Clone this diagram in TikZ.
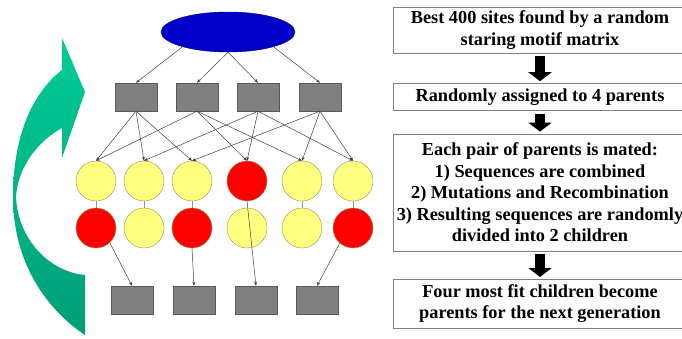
\documentclass[tikz,border=0pt]{standalone}
\usepackage{fontspec}
\setmainfont{Liberation Serif}
\usetikzlibrary{positioning,shapes.geometric,arrows.meta}
\definecolor{poolblue}{RGB}{0,0,200}
\definecolor{boxgray}{RGB}{128,128,128}
\definecolor{seqyellow}{RGB}{255,255,128}
\definecolor{seqred}{RGB}{255,0,0}
\definecolor{seqedge}{RGB}{150,150,90}
\definecolor{greenlight}{RGB}{0,204,150}
\definecolor{greendark}{RGB}{0,158,118}

\begin{document}
\begin{tikzpicture}[
    x=1pt,
    y=-1pt,
    pool/.style={
        ellipse,
        draw=poolblue!60!black,
        fill=poolblue,
        minimum width=134pt,
        minimum height=40pt
    },
    parent/.style={
        rectangle,
        draw=boxgray!70!black,
        fill=boxgray,
        minimum width=42pt,
        minimum height=28pt
    },
    yseq/.style={
        circle,
        draw=seqedge,
        fill=seqyellow,
        minimum size=40pt,
        inner sep=0pt
    },
    rseq/.style={
        circle,
        draw=seqedge,
        fill=seqred,
        minimum size=40pt,
        inner sep=0pt
    },
    stage/.style={
        rectangle,
        draw=gray,
        fill=white,
        minimum width=294pt,
        inner sep=0pt,
        align=center,
        font=\bfseries\fontsize{18.3}{21.5}\selectfont
    },
    arrow/.style={-{Stealth[length=4pt,width=3pt]}, draw=black!75, line width=0.5pt},
    bigarrow/.style={-{Triangle[length=9pt,width=23pt]}, line width=10pt,
        shorten <=3pt, shorten >=2pt}
]
    \useasboundingbox (0,0) rectangle (682,339);

    % Cycle arrow
    \shade[top color=greenlight, bottom color=greendark]
        (85,335) .. controls (40,305) and (13,255) .. (13,197)
        .. controls (13,140) and (30,95) .. (62,70)
        -- (62,38) -- (85,92) -- (62,158) -- (62,128)
        .. controls (40,140) and (18,165) .. (16,197)
        .. controls (18,240) and (50,272) .. (85,275) -- cycle;

    % Site pool
    \node[pool] (pool) at (228,32) {};

    % Parents
    \node[parent] (p1) at (136,97) {};
    \node[parent] (p2) at (197,97) {};
    \node[parent] (p3) at (258,97) {};
    \node[parent] (p4) at (320,97) {};

    % Children - upper sequences
    \node[yseq] (ca1) at (96,181) {};
    \node[yseq] (ca2) at (144,181) {};
    \node[yseq] (ca3) at (192,181) {};
    \node[rseq] (ca4) at (247,181) {};
    \node[yseq] (ca5) at (302,181) {};
    \node[yseq] (ca6) at (353,181) {};

    % Children - lower sequences
    \node[rseq] (cb1) at (96,228) {};
    \node[yseq] (cb2) at (144,228) {};
    \node[rseq] (cb3) at (192,228) {};
    \node[yseq] (cb4) at (247,228) {};
    \node[yseq] (cb5) at (302,228) {};
    \node[rseq] (cb6) at (353,228) {};

    % Next generation
    \node[parent] (n1) at (132,300) {};
    \node[parent] (n2) at (194,300) {};
    \node[parent] (n3) at (256,300) {};
    \node[parent] (n4) at (317,300) {};

    % Arrows - pool to parents
    \draw[arrow] (pool.198) -- (p1.north);
    \draw[arrow] (pool.south) -- (p2.north);
    \draw[arrow] (pool.south) -- (p3.north);
    \draw[arrow] (pool.342) -- (p4.north);

    % Arrows - parents to children
    \draw[arrow] (p1.south) -- (ca1.north);
    \draw[arrow] (p1.south) -- (ca2.north);
    \draw[arrow] (p1.south) -- (ca3.north);
    \draw[arrow] (p2.south) -- (ca1.north);
    \draw[arrow] (p2.south) -- (ca4.north);
    \draw[arrow] (p2.south) -- (ca5.north);
    \draw[arrow] (p3.south) -- (ca2.north);
    \draw[arrow] (p3.south) -- (ca4.north);
    \draw[arrow] (p3.south) -- (ca6.north);
    \draw[arrow] (p4.south) -- (ca3.north);
    \draw[arrow] (p4.south) -- (ca5.north);
    \draw[arrow] (p4.south) -- (ca6.north);

    % Links between sequences
    \draw[seqedge] (ca1) -- (cb1);
    \draw[seqedge] (ca2) -- (cb2);
    \draw[seqedge] (ca3) -- (cb3);
    \draw[seqedge] (ca5) -- (cb5);
    \draw[seqedge] (ca6) -- (cb6);

    % Arrows - fittest to next generation
    \draw[arrow] (cb1.313) -- (n1.north);
    \draw[arrow] (cb3.south) -- (n2.north);
    \draw[arrow] (ca4.south) -- (n3.north);
    \draw[arrow] (cb6.229) -- (n4.north);

    % Flow chart
    \node[stage, minimum height=46pt] (best) at (540,30)
        {Best 400 sites found by a random\\staring motif matrix};
    \node[stage, minimum height=27pt, below=30pt of best] (assign)
        {Randomly assigned to 4 parents};
    \node[stage, minimum height=117pt, below=23pt of assign] (mate)
        {Each pair of parents is mated:\\1) Sequences are combined\\2) Mutations and Recombination\\3) Resulting sequences are randomly\\divided into 2 children};
    \node[stage, minimum height=49pt, below=28pt of mate] (fit)
        {Four most fit children become\\parents for the next generation};

    \draw[bigarrow] (best) -- (assign);
    \draw[bigarrow] (assign) -- (mate);
    \draw[bigarrow] (mate) -- (fit);
\end{tikzpicture}
\end{document}
